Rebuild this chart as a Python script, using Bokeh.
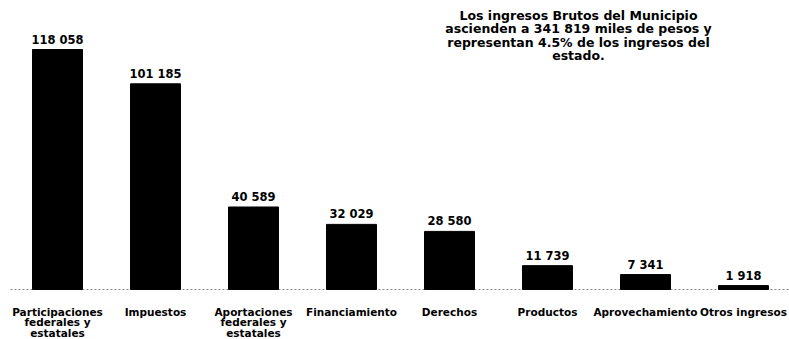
from bokeh.plotting import figure
from bokeh.models import ColumnDataSource, Range1d
from bokeh.core.properties import value
from bokeh.embed import file_html
from bokeh.resources import INLINE

categories = ["Participaciones\nfederales y\nestatales", "Impuestos",
              "Aportaciones\nfederales y\nestatales", "Financiamiento",
              "Derechos", "Productos", "Aprovechamiento", "Otros ingresos"]
values_k = [118.058, 101.185, 40.589, 32.029, 28.580, 11.739, 7.341, 1.918]
value_labels = ["118 058", "101 185", "40 589", "32 029", "28 580",
                "11 739", "7 341", "1 918"]
note = ("Los ingresos Brutos del Municipio\nascienden a 341 819 miles de pesos y\n"
        "representan 4.5% de los ingresos del\nestado.")

W, H = 789, 339
base_px = 289.0
scale = (base_px - 49.0) / 118.058  # px per thousand
x_start = -57 / 98
x_end = (W - 57) / 98
y_top = base_px / scale
y_bot = -(H - base_px) / scale

p = figure(width=W, height=H, output_backend="svg", toolbar_location=None,
           x_range=Range1d(x_start, x_end), y_range=Range1d(y_bot, y_top),
           min_border=0)
p.axis.visible = False
p.grid.visible = False
p.outline_line_color = None
p.background_fill_color = "white"

xs = list(range(len(categories)))
src = ColumnDataSource(dict(x=xs, top=values_k, lab=value_labels, cat=categories,
                            ylab=[-(305 - base_px) / scale] * len(xs)))

p.segment(x0=[-0.48], y0=[0], x1=[x_end], y1=[0], line_color="#888888",
          line_width=1, line_dash="2 2")
p.vbar(x="x", top="top", bottom=0, width=0.51, source=src,
       fill_color="black", line_color="black")
p.text(x="x", y="top", text="lab", source=src, text_align="center",
       text_baseline="bottom", y_offset=-3, text_font=value("DejaVu Sans"),
       text_font_style="bold", text_font_size="11.5px", text_color="black")
p.text(x="x", y="ylab", text="cat", source=src, text_align="center",
       text_baseline="top", text_font=value("DejaVu Sans"),
       text_font_style="bold", text_font_size="10.5px", text_color="black",
       text_line_height=0.88)
p.text(x=[(578 - 57) / 98], y=[(base_px - 7) / scale], text=[note],
       text_align="center", text_baseline="top", text_font=value("DejaVu Sans"),
       text_font_style="bold", text_font_size="12.5px", text_color="black",
       text_line_height=0.9)

open("out.html", "w").write(file_html(p, INLINE))
